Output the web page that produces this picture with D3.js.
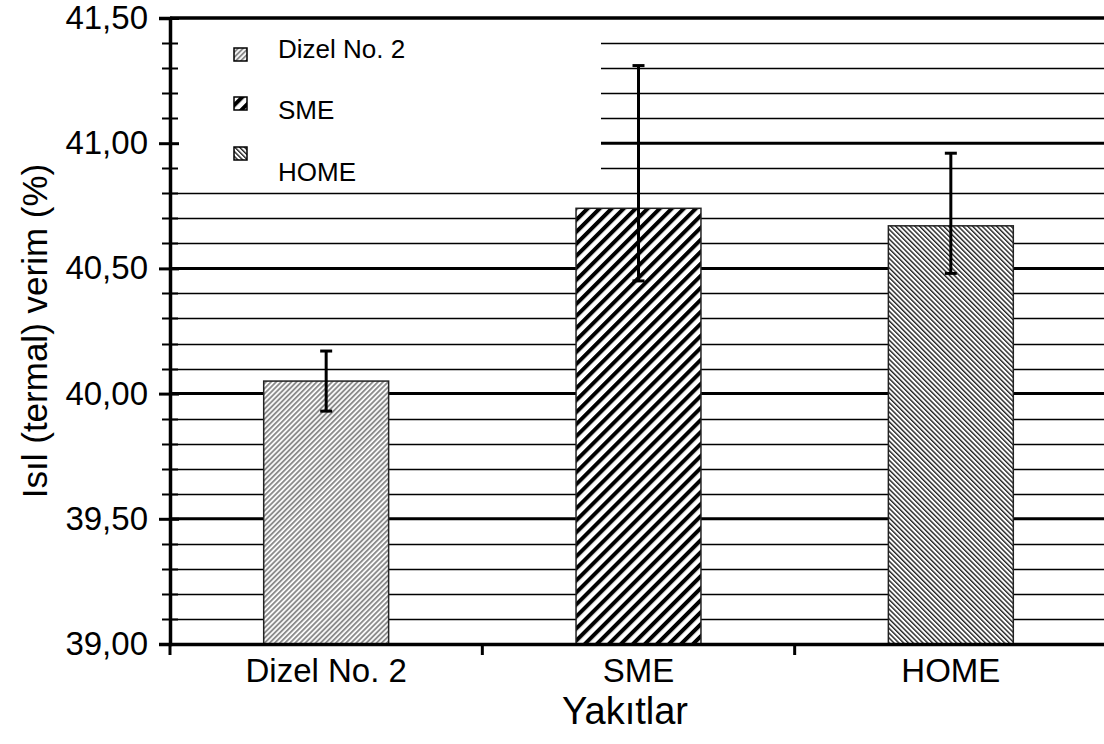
<!DOCTYPE html>
<html><head><meta charset="utf-8">
<script src="https://cdn.jsdelivr.net/npm/d3@7"></script>
<style>body{margin:0;background:#fff}svg{display:block}text{font-family:"Liberation Sans",Arial,sans-serif;fill:#000}</style>
</head><body><svg id="c" width="1104" height="744"></svg>
<script>
const categories = ["Dizel No. 2", "SME", "HOME"];
const values = [40.05, 40.74, 40.67];
const errUp = [0.12, 0.57, 0.29];
const errDown = [0.12, 0.29, 0.19];
const majorTicks = [39.0, 39.5, 40.0, 40.5, 41.0, 41.5];
const minorTicks = d3.range(39.1, 41.5, 0.1).filter(v => Math.abs(v*2 - Math.round(v*2)) > 0.05);
const patternIds = ["pDizel", "pSME", "pHOME"];

const svg = d3.select("#c");
const L = 170, R = 1107, T = 18, B = 644;
const x = d3.scaleBand().domain(categories).range([L, R]).paddingInner(0.6).paddingOuter(0.3);
const xb = d3.scaleBand().domain(categories).range([L, R]);
const y = d3.scaleLinear().domain([39, 41.5]).range([B, T]);

const defs = svg.append("defs");
function stripes(id, period, width, color, angle) {
  const p = defs.append("pattern").attr("id", id).attr("patternUnits", "userSpaceOnUse")
    .attr("width", period).attr("height", period).attr("patternTransform", `rotate(${angle})`);
  p.append("rect").attr("width", period).attr("height", period).attr("fill", "#fff");
  p.append("rect").attr("x", 0).attr("width", width).attr("height", period).attr("fill", color);
}
stripes("pDizel", 3.6, 1.9, "#8c8c8c", 45);
stripes("pSME", 8.5, 4, "#000", 45);
stripes("pHOME", 3.4, 1.4, "#222", -45);

// grid
svg.append("g").selectAll("line").data(minorTicks).join("line")
  .attr("x1", L).attr("x2", R).attr("y1", d => Math.round(y(d)) + 0.5).attr("y2", d => Math.round(y(d)) + 0.5)
  .attr("stroke", "#000").attr("stroke-width", 1.3);
svg.append("g").selectAll("line").data(majorTicks.slice(1, -1)).join("line")
  .attr("x1", L).attr("x2", R).attr("y1", d => y(d)).attr("y2", d => y(d))
  .attr("stroke", "#000").attr("stroke-width", 3);

// bars
svg.append("g").selectAll("rect").data(categories).join("rect")
  .attr("x", d => x(d)).attr("width", x.bandwidth())
  .attr("y", (d, i) => y(values[i])).attr("height", (d, i) => B - y(values[i]))
  .attr("fill", (d, i) => `url(#${patternIds[i]})`)
  .attr("stroke", "#222").attr("stroke-width", 1.5);

// legend box (covers grid)
svg.append("rect").attr("x", L + 1).attr("y", T).attr("width", 430).attr("height", 172).attr("fill", "#fff");
const lg = svg.append("g");
const lgY = [48, 97, 147];
const lgTY = [58, 119, 181];
categories.forEach((c, i) => {
  lg.append("rect").attr("x", 234).attr("y", lgY[i]).attr("width", 13).attr("height", 13)
    .attr("fill", `url(#${patternIds[i]})`).attr("stroke", "#000").attr("stroke-width", 1.5);
  lg.append("text").attr("x", 278).attr("y", lgTY[i]).attr("font-size", 26).text(c);
});

// error bars
const eb = svg.append("g").attr("stroke", "#000").attr("stroke-width", 3);
categories.forEach((c, i) => {
  const cx = x(c) + x.bandwidth() / 2;
  const y1 = y(values[i] + errUp[i]), y2 = y(values[i] - errDown[i]);
  eb.append("line").attr("x1", cx).attr("x2", cx).attr("y1", y1).attr("y2", y2);
  eb.append("line").attr("x1", cx - 6).attr("x2", cx + 6).attr("y1", y1).attr("y2", y1);
  eb.append("line").attr("x1", cx - 6).attr("x2", cx + 6).attr("y1", y2).attr("y2", y2);
});

// frame
svg.append("line").attr("x1", L).attr("x2", R).attr("y1", T).attr("y2", T).attr("stroke", "#000").attr("stroke-width", 3.5);

// y axis
const ya = svg.append("g").attr("transform", `translate(${L},0)`)
  .call(d3.axisLeft(y).tickValues(majorTicks).tickFormat(d => d3.format(".2f")(d).replace(".", ",")).tickSize(11).tickPadding(11));
ya.select(".domain").attr("stroke-width", 3.5);
ya.selectAll(".tick line").attr("stroke-width", 3).attr("x2", 9).attr("x1", -11);
ya.selectAll(".tick text").attr("font-size", 33).attr("font-family", "Liberation Sans, Arial, sans-serif").attr("fill", "#000");
svg.append("g").attr("transform", `translate(${L},0)`).selectAll("line").data(minorTicks).join("line")
  .attr("x1", -8).attr("x2", 8).attr("y1", d => Math.round(y(d)) + 0.5).attr("y2", d => Math.round(y(d)) + 0.5)
  .attr("stroke", "#000").attr("stroke-width", 2);

// x axis
const xa = svg.append("g").attr("transform", `translate(0,${B})`)
  .call(d3.axisBottom(xb).tickSize(0).tickPadding(13));
xa.select(".domain").attr("stroke-width", 3.5);
xa.selectAll(".tick text").attr("font-size", 33).attr("font-family", "Liberation Sans, Arial, sans-serif").attr("fill", "#000").attr("dy", "0.75em");
svg.append("g").selectAll("line").data(categories).join("line")
  .attr("x1", d => xb(d)).attr("x2", d => xb(d)).attr("y1", B).attr("y2", B + 11)
  .attr("stroke", "#000").attr("stroke-width", 3);

// titles
svg.append("text").attr("x", 625).attr("y", 724).attr("text-anchor", "middle").attr("font-size", 38).text("Yakıtlar");
svg.append("text").attr("transform", "translate(47,331) rotate(-90)").attr("text-anchor", "middle").attr("font-size", 35).text("Isıl (termal) verim (%)");
</script></body></html>
